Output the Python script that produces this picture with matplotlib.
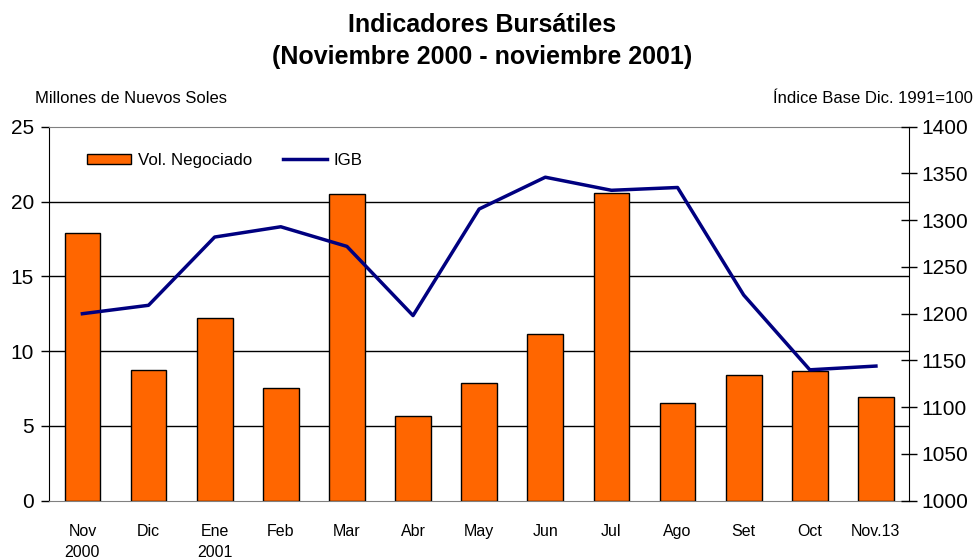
import matplotlib
matplotlib.use("Agg")
import matplotlib.pyplot as plt
from matplotlib.patches import Patch
from matplotlib.lines import Line2D

plt.rcParams["font.family"] = ["Liberation Sans", "DejaVu Sans"]

# Datos
meses = ["Nov\n2000", "Dic", "Ene\n2001", "Feb", "Mar", "Abr", "May",
         "Jun", "Jul", "Ago", "Set", "Oct", "Nov.13"]
volumen = [17.87, 8.71, 12.19, 7.55, 20.48, 5.68, 7.87,
           11.14, 20.59, 6.51, 8.42, 8.65, 6.91]
igb = [1200, 1209, 1282, 1293, 1272, 1198, 1312,
       1346, 1332, 1335, 1220, 1140, 1144]

NARANJA = "#FF6600"
AZUL = "#000080"

fig = plt.figure(figsize=(9.75, 5.59), dpi=100)
ax = fig.add_axes([0.0506, 0.1043, 0.8817, 0.669])
x = range(len(meses))

ax.bar(x, volumen, width=0.54, color=NARANJA, edgecolor="black",
       linewidth=1, zorder=3)
ax.set_xlim(-0.5, len(meses) - 0.5)
ax.set_ylim(0, 25)
ax.set_yticks(range(0, 26, 5))
ax.set_xticks(list(x))
ax.set_xticklabels(meses, fontsize=11.5, linespacing=1.5)
ax.tick_params(axis="x", length=0, pad=17)
ax.tick_params(axis="y", direction="out", length=6, width=1,
               labelsize=15, pad=5)
for v in range(5, 21, 5):
    ax.axhline(v, color="black", linewidth=1, zorder=1)
ax.spines["top"].set_color("#808080")
ax.spines["bottom"].set_color("#808080")
ax.spines["right"].set_visible(False)

# Eje secundario - IGB
ax2 = ax.twinx()
ax2.plot(x, igb, color=AZUL, linewidth=2.5, zorder=4)
ax2.set_ylim(1000, 1400)
ax2.set_yticks(range(1000, 1401, 50))
ax2.tick_params(axis="y", direction="inout", length=12, width=1,
                labelsize=15, pad=3)
ax2.spines["top"].set_visible(False)
ax2.spines["bottom"].set_visible(False)
ax2.spines["left"].set_visible(False)

# Leyenda
handles = [Patch(facecolor=NARANJA, edgecolor="black", linewidth=1),
           Line2D([0], [0], color=AZUL, linewidth=2.5)]
ax2.legend(handles, ["Vol. Negociado", "IGB"], ncol=2, frameon=False,
           loc="center left", bbox_to_anchor=(0.044, 0.91),
           borderaxespad=0, borderpad=0, fontsize=12.2,
           handlelength=2.6, handleheight=0.6, handletextpad=0.4,
           columnspacing=1.8)

# Titulos
fig.text(482 / 975, 1 - 41 / 559, "Indicadores Bursátiles\n(Noviembre 2000 - noviembre 2001)",
         ha="center", va="center", fontsize=18, fontweight="bold",
         linespacing=1.38)
fig.text(35 / 975, 1 - 99 / 559, "Millones de Nuevos Soles",
         ha="left", va="center", fontsize=12)
fig.text(973 / 975, 1 - 99 / 559, "Índice Base Dic. 1991=100",
         ha="right", va="center", fontsize=12)

fig.savefig("out.png", dpi=100)
